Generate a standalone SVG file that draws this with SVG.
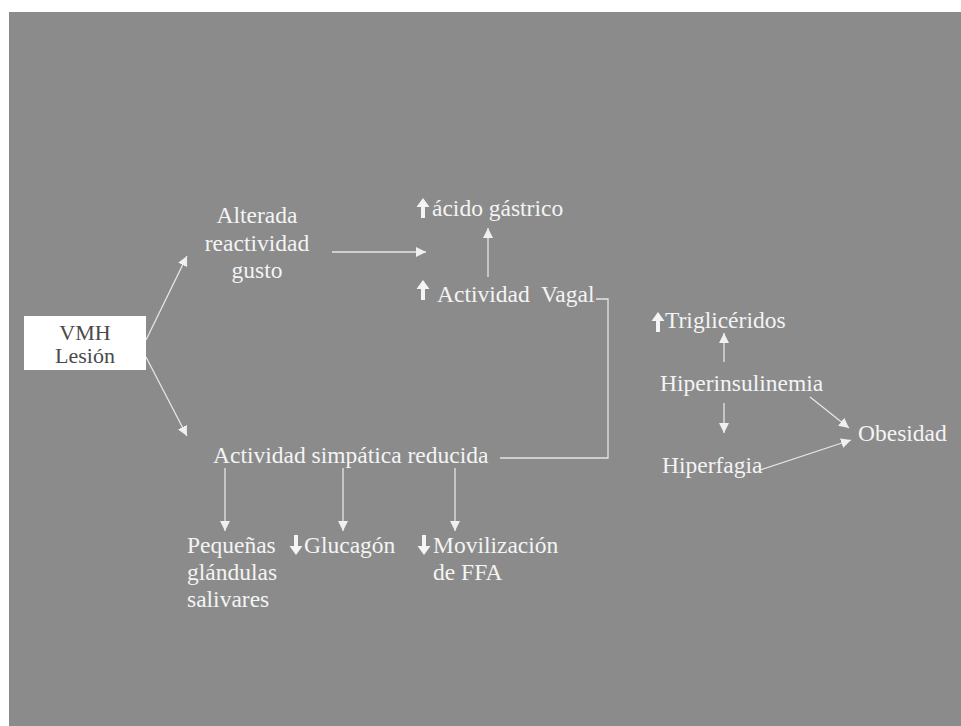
<svg xmlns="http://www.w3.org/2000/svg" width="961" height="726" viewBox="0 0 961 726">
<defs>
<style>
text{font-family:"Liberation Serif","Times New Roman","DejaVu Serif",serif}
.t{font-size:23.5px;fill:#f4f4f4}
.d{font-size:22px;fill:#4a4a4a}
.c{stroke:#e6e6e6;stroke-width:1.3;fill:none}
.ind{fill:#f4f4f4}
</style>
<marker id="ah" viewBox="0 0 10 10" refX="10" refY="5" markerWidth="10" markerHeight="10" markerUnits="userSpaceOnUse" orient="auto">
<path d="M0,0 L10,5 L0,10 Z" fill="#f0f0f0"/>
</marker>
<path id="up" d="M0,-10 L6.5,-1 L2,-1 L2,10 L-2,10 L-2,-1 L-6.5,-1 Z"/>
<path id="down" d="M0,10 L6.5,1 L2,1 L2,-10 L-2,-10 L-2,1 L-6.5,1 Z"/>
</defs>
<rect width="961" height="726" fill="#ffffff"/>
<rect x="9" y="12" width="952" height="714" fill="#8b8b8b"/>

<g id="connectors" class="c">
<line x1="146" y1="340" x2="187" y2="256" marker-end="url(#ah)"/>
<line x1="146" y1="357" x2="187" y2="436" marker-end="url(#ah)"/>
<line x1="332" y1="252" x2="426" y2="252" marker-end="url(#ah)"/>
<line x1="488" y1="277" x2="488" y2="228" marker-end="url(#ah)"/>
<polyline points="596,299 608,299 608,458 500,458"/>
<line x1="225" y1="468" x2="225" y2="531" marker-end="url(#ah)"/>
<line x1="343" y1="468" x2="343" y2="531" marker-end="url(#ah)"/>
<line x1="455" y1="468" x2="455" y2="531" marker-end="url(#ah)"/>
<line x1="724" y1="362" x2="724" y2="333" marker-end="url(#ah)"/>
<line x1="724" y1="403" x2="724" y2="433" marker-end="url(#ah)"/>
<line x1="810" y1="397" x2="849" y2="428" marker-end="url(#ah)"/>
<line x1="760" y1="470" x2="851" y2="440" marker-end="url(#ah)"/>
</g>

<g id="vmh">
<rect x="24" y="316" width="122" height="54" fill="#ffffff"/>
<text class="d" x="85" y="340" text-anchor="middle">VMH</text>
<text class="d" x="85" y="363" text-anchor="middle">Lesión</text>
</g>

<g id="alterada">
<text class="t" x="257" y="223" text-anchor="middle">Alterada</text>
<text class="t" x="257" y="251" text-anchor="middle">reactividad</text>
<text class="t" x="257" y="278" text-anchor="middle">gusto</text>
</g>

<g id="acido">
<use href="#up" class="ind" x="423" y="208"/>
<text class="t" x="432" y="216">ácido gástrico</text>
</g>

<g id="vagal">
<use href="#up" class="ind" x="423" y="290"/>
<text class="t" x="437" y="302" xml:space="preserve">Actividad  Vagal</text>
</g>

<g id="simpatica">
<text class="t" x="213" y="463">Actividad simpática reducida</text>
</g>

<g id="pequenas">
<text class="t" x="187" y="553">Pequeñas</text>
<text class="t" x="187" y="580">glándulas</text>
<text class="t" x="187" y="607">salivares</text>
</g>

<g id="glucagon">
<use href="#down" class="ind" x="296" y="545"/>
<text class="t" x="304" y="553">Glucagón</text>
</g>

<g id="movilizacion">
<use href="#down" class="ind" x="424" y="545"/>
<text class="t" x="433" y="553">Movilización</text>
<text class="t" x="433" y="580">de FFA</text>
</g>

<g id="trigliceridos">
<use href="#up" class="ind" x="658" y="322"/>
<text class="t" x="665" y="328">Triglicéridos</text>
</g>

<g id="hiperinsulinemia">
<text class="t" x="660" y="391">Hiperinsulinemia</text>
</g>

<g id="hiperfagia">
<text class="t" x="662" y="473">Hiperfagia</text>
</g>

<g id="obesidad">
<text class="t" x="858" y="441">Obesidad</text>
</g>
</svg>
